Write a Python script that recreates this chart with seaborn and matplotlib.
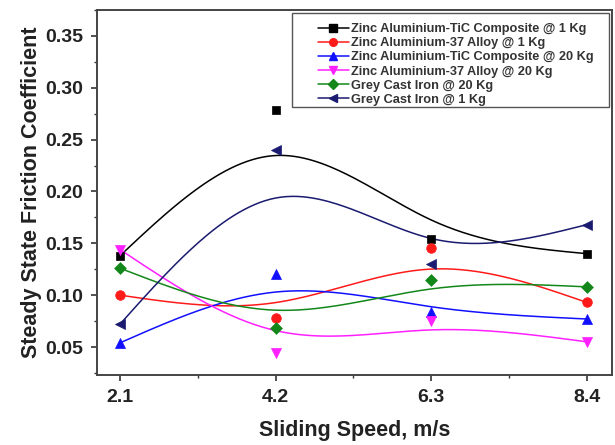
import numpy as np
import pandas as pd
import matplotlib
matplotlib.use("Agg")
import matplotlib.pyplot as plt
from matplotlib.lines import Line2D
from matplotlib.patches import Rectangle
from matplotlib.ticker import MultipleLocator, FormatStrFormatter
import seaborn as sns

# ---- data ----
speeds = [2.1, 4.2, 6.3, 8.4]
series_names = [
    "Zinc Aluminium-TiC Composite @ 1 Kg",
    "Zinc Aluminium-37 Alloy @ 1 Kg",
    "Zinc Aluminium-TiC Composite @ 20 Kg",
    "Zinc Aluminium-37 Alloy @ 20 Kg",
    "Grey Cast Iron @ 20 Kg",
    "Grey Cast Iron @ 1 Kg",
]
znal_tic_1kg = [0.138, 0.279, 0.154, 0.140]
znal37_1kg = [0.100, 0.078, 0.145, 0.093]
znal_tic_20kg = [0.054, 0.120, 0.084, 0.077]
znal37_20kg = [0.144, 0.044, 0.075, 0.055]
gci_20kg = [0.126, 0.068, 0.115, 0.108]
gci_1kg = [0.072, 0.240, 0.130, 0.168]
series_values = [znal_tic_1kg, znal37_1kg, znal_tic_20kg, znal37_20kg, gci_20kg, gci_1kg]

colors = ["#000000", "#ff1a1a", "#1010ff", "#ff20ff", "#13871a", "#1a1a70"]
markers = ["s", "o", "^", "v", "D", "<"]
msizes = [40, 48, 52, 52, 36, 52]

rows = []
for name, vals in zip(series_names, series_values):
    for x, y in zip(speeds, vals):
        rows.append({"speed": x, "cof": y, "series": name})
df = pd.DataFrame(rows)


def bspline_curve(xs, ys, n=60):
    """Uniform cubic B-spline using the data as control points (ends pinned)."""
    xs = np.asarray(xs, float)
    ys = np.asarray(ys, float)
    ex = np.concatenate([[2 * xs[0] - xs[1]], xs, [2 * xs[-1] - xs[-2]]])
    ey = np.concatenate([[2 * ys[0] - ys[1]], ys, [2 * ys[-1] - ys[-2]]])
    t = np.linspace(0, 1, n)
    b0 = (1 - t) ** 3 / 6
    b1 = (3 * t ** 3 - 6 * t ** 2 + 4) / 6
    b2 = (-3 * t ** 3 + 3 * t ** 2 + 3 * t + 1) / 6
    b3 = t ** 3 / 6
    cx, cy = [], []
    for i in range(len(xs) - 1):
        q = slice(i, i + 4)
        px, py = ex[q], ey[q]
        cx.append(b0 * px[0] + b1 * px[1] + b2 * px[2] + b3 * px[3])
        cy.append(b0 * py[0] + b1 * py[1] + b2 * py[2] + b3 * py[3])
    return np.concatenate(cx), np.concatenate(cy)


sns.set_theme(style="ticks")
plt.rcParams["font.family"] = ["Liberation Sans", "DejaVu Sans"]
plt.rcParams["font.weight"] = "bold"

fig = plt.figure(figsize=(6.15, 4.45), dpi=100)
W, H = 615, 445
left, right, top, bottom = 97, 612, 10, 375
ax = fig.add_axes([left / W, 1 - bottom / H, (right - left) / W, (bottom - top) / H])

for name, vals, c in zip(series_names, series_values, colors):
    cx, cy = bspline_curve(speeds, vals)
    cdf = pd.DataFrame({"x": cx, "y": cy})
    sns.lineplot(data=cdf, x="x", y="y", ax=ax, color=c, lw=1.1, sort=False,
                 legend=False, estimator=None)

for name, c, m, s in zip(series_names, colors, markers, msizes):
    sub = df[df["series"] == name]
    sns.scatterplot(data=sub, x="speed", y="cof", ax=ax, color=c, marker=m,
                    s=s, edgecolor=c, linewidth=0.5, legend=False, zorder=3)

ax.set_xlim(1.79, 8.74)
ax.set_xticks(speeds)
ax.set_xticklabels([f"{v:.1f}" for v in speeds])
ax.xaxis.set_minor_locator(MultipleLocator(1.05))
ax.yaxis.set_major_locator(MultipleLocator(0.05))
ax.yaxis.set_minor_locator(MultipleLocator(0.025))
ax.yaxis.set_major_formatter(FormatStrFormatter("%.2f"))
ax.set_ylim(0.023, 0.375)

ax.tick_params(axis="both", which="major", direction="out", length=4, width=1.2,
               labelsize=14, colors="#333333", labelcolor="#222222")
ax.tick_params(axis="y", which="major", pad=6)
ax.tick_params(axis="x", which="major", pad=6)
ax.tick_params(axis="both", which="minor", direction="out", length=2.5, width=1.0,
               colors="#333333")
for lab in ax.get_xticklabels() + ax.get_yticklabels():
    lab.set_fontweight("bold")

for sp in ax.spines.values():
    sp.set_visible(True)
    sp.set_color("#444444")
    sp.set_linewidth(1.4)

ax.set_xlabel("Sliding Speed, m/s", fontsize=15.5, fontweight="bold",
              color="#222222", labelpad=10)
ax.set_ylabel("Steady State Friction Coefficient", fontsize=15.5, fontweight="bold",
              color="#222222", labelpad=2)

handles = [Line2D([0], [0], color=c, marker=m, markersize=5.5, lw=1.1,
                  markeredgecolor=c) for c, m in zip(colors, markers)]
leg = ax.legend(handles, series_names, loc="upper left",
                bbox_to_anchor=(318 / W, 1 - 23 / H), bbox_transform=fig.transFigure,
                prop={"family": ["Liberation Sans", "DejaVu Sans"], "weight": "bold", "size": 9.2},
                frameon=False, handlelength=2.4, handletextpad=0.15, labelspacing=0.17,
                borderpad=0, borderaxespad=0)
for t in leg.get_texts():
    t.set_color("#333333")

frame = Rectangle((292 / W, 1 - 107 / H), (609 - 292) / W, (107 - 13) / H,
                  transform=fig.transFigure, facecolor="white", edgecolor="#555555",
                  linewidth=1.0, zorder=4)
ax.add_artist(frame)
frame.set_clip_on(False)
leg.set_zorder(5)

fig.savefig("out.png", dpi=100)
